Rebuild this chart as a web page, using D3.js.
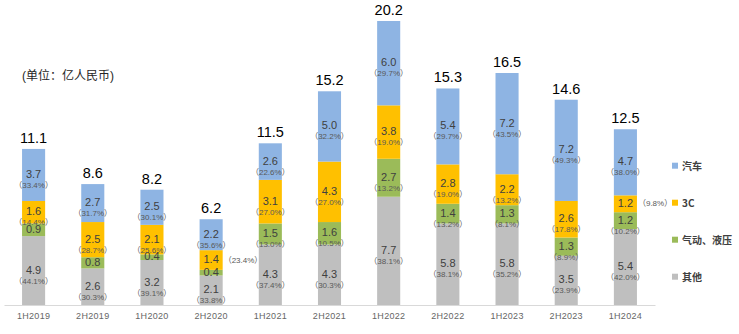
<!DOCTYPE html>
<html>
<head>
<meta charset="utf-8">
<script src="https://cdn.jsdelivr.net/npm/d3@7/dist/d3.min.js"></script>
<style>
  html, body { margin: 0; padding: 0; background: #ffffff; }
  svg { display: block; }
  text { font-family: "Liberation Sans", Arial, "Noto Sans CJK SC", sans-serif; }
</style>
</head>
<body>
<svg id="chart" width="739" height="334"></svg>
<script>
// Half-year periods
const categories = ["1H2019", "2H2019", "1H2020", "2H2020", "1H2021", "2H2021",
                    "1H2022", "2H2022", "1H2023", "2H2023", "1H2024"];

// Totals shown above each bar (亿人民币)
const totals = [11.1, 8.6, 8.2, 6.2, 11.5, 15.2, 20.2, 15.3, 16.5, 14.6, 12.5];

// Segment values, bottom to top
const otherValues = [4.9, 2.6, 3.2, 2.1, 4.3, 4.3, 7.7, 5.8, 5.8, 3.5, 5.4];
const pneumaticValues = [0.9, 0.8, 0.4, 0.4, 1.5, 1.6, 2.7, 1.4, 1.3, 1.3, 1.2];
const threeCValues = [1.6, 2.5, 2.1, 1.4, 3.1, 4.3, 3.8, 2.8, 2.2, 2.6, 1.2];
const autoValues = [3.7, 2.7, 2.5, 2.2, 2.6, 5.0, 6.0, 5.4, 7.2, 7.2, 4.7];

// Share of each segment in its period
const otherShares = ["44.1%", "30.3%", "39.1%", "33.8%", "37.4%", "30.3%", "38.1%", "38.1%", "35.2%", "23.9%", "42.0%"];
const pneumaticShares = [null, null, null, null, "13.0%", "10.5%", "13.2%", "13.2%", "8.1%", "8.9%", "10.2%"];
const threeCShares = ["14.4%", "28.7%", "25.6%", "23.4%", "27.0%", "27.0%", "19.0%", "19.0%", "13.2%", "17.8%", "9.8%"];
const autoShares = ["33.4%", "31.7%", "30.1%", "35.6%", "22.6%", "32.2%", "29.7%", "29.7%", "43.5%", "49.3%", "38.0%"];

// Series names (legend order: top to bottom)
const seriesNames = ["汽车", "3C", "气动、液压", "其他"];

// Periods whose narrow 3C share label sits beside the bar
const sideShareCategories = ["2H2020", "1H2024"];

const series = [
  { key: "其他", values: otherValues, shares: otherShares, color: "#bfbfbf" },
  { key: "气动、液压", values: pneumaticValues, shares: pneumaticShares, color: "#9bbb59" },
  { key: "3C", values: threeCValues, shares: threeCShares, color: "#ffc000" },
  { key: "汽车", values: autoValues, shares: autoShares, color: "#8eb4e3" }
];
const colorOf = Object.fromEntries(series.map(s => [s.key, s.color]));

const svg = d3.select("#chart");

const x = d3.scaleBand()
  .domain(categories)
  .range([4, 655])
  .paddingInner(0.61)
  .paddingOuter(0.305);

const y = d3.scaleLinear()
  .domain([0, 20])
  .range([305, 23.8]);

// Stack the segments
const rows = categories.map((c, i) => {
  const r = { category: c };
  series.forEach(s => { r[s.key] = s.values[i]; });
  return r;
});
const stacked = d3.stack().keys(series.map(s => s.key))(rows);

// Bars
const layers = svg.append("g").selectAll("g")
  .data(stacked)
  .join("g")
  .attr("fill", d => colorOf[d.key]);

layers.selectAll("rect")
  .data(d => d)
  .join("rect")
  .attr("x", d => x(d.data.category))
  .attr("width", x.bandwidth())
  .attr("y", d => y(d[1]))
  .attr("height", d => y(d[0]) - y(d[1]));

// Axis
const axis = svg.append("g")
  .attr("transform", `translate(0,${y(0)})`)
  .call(d3.axisBottom(x).tickSize(0).tickSizeOuter(0).tickPadding(8));
axis.select(".domain").attr("stroke", "#d9d9d9").attr("stroke-width", 1);
axis.selectAll(".tick text")
  .attr("fill", "#666666")
  .style("font-size", "9px")
  .style("letter-spacing", "0.3px")
  .style("font-family", "\"Liberation Sans\", Arial, sans-serif");

// Segment value and share labels
const labelG = svg.append("g");
stacked.forEach((layer, li) => {
  const s = series[li];
  layer.forEach((d, i) => {
    const cx = x(d.data.category) + x.bandwidth() / 2;
    const cy = (y(d[0]) + y(d[1])) / 2;
    labelG.append("text")
      .attr("x", cx)
      .attr("y", cy - 1)
      .attr("text-anchor", "middle")
      .attr("dominant-baseline", "central")
      .attr("fill", "#404040")
      .style("font-size", "11px")
      .text(d3.format(".1f")(s.values[i]));
    const share = s.shares[i];
    if (!share) return;
    const beside = s.key === "3C" && sideShareCategories.includes(d.data.category);
    labelG.append("text")
      .attr("x", beside ? x(d.data.category) + x.bandwidth() + 1 : cx)
      .attr("y", beside ? cy : cy + 10.5)
      .attr("text-anchor", beside ? "start" : "middle")
      .attr("dominant-baseline", "central")
      .attr("fill", "#595959")
      .style("font-size", "8px")
      .text("（" + share + "）");
  });
});

// Totals above bars
svg.append("g").selectAll("text")
  .data(categories)
  .join("text")
  .attr("x", c => x(c) + x.bandwidth() / 2)
  .attr("y", (c, i) => y(d3.sum(series, s => s.values[i])) - 6)
  .attr("text-anchor", "middle")
  .attr("fill", "#000000")
  .style("font-size", "14.5px")
  .text((c, i) => d3.format(".1f")(totals[i]));

// Unit note
svg.append("text")
  .attr("x", 22)
  .attr("y", 80)
  .attr("fill", "#262626")
  .style("font-size", "12px")
  .text("(单位：亿人民币)");

// Legend
const legend = svg.append("g").selectAll("g")
  .data(seriesNames)
  .join("g")
  .attr("transform", (d, i) => `translate(672,${165.7 + i * 37})`);
legend.append("rect")
  .attr("x", 0).attr("y", -3)
  .attr("width", 6).attr("height", 6)
  .attr("fill", d => colorOf[d]);
legend.append("text")
  .attr("x", 10)
  .attr("y", 0)
  .attr("dominant-baseline", "central")
  .attr("fill", "#404040")
  .style("font-size", "10px")
  .style("font-weight", "bold")
  .style("font-family", "\"Noto Sans CJK SC\", \"Liberation Sans\", sans-serif")
  .text(d => d);
</script>
</body>
</html>
